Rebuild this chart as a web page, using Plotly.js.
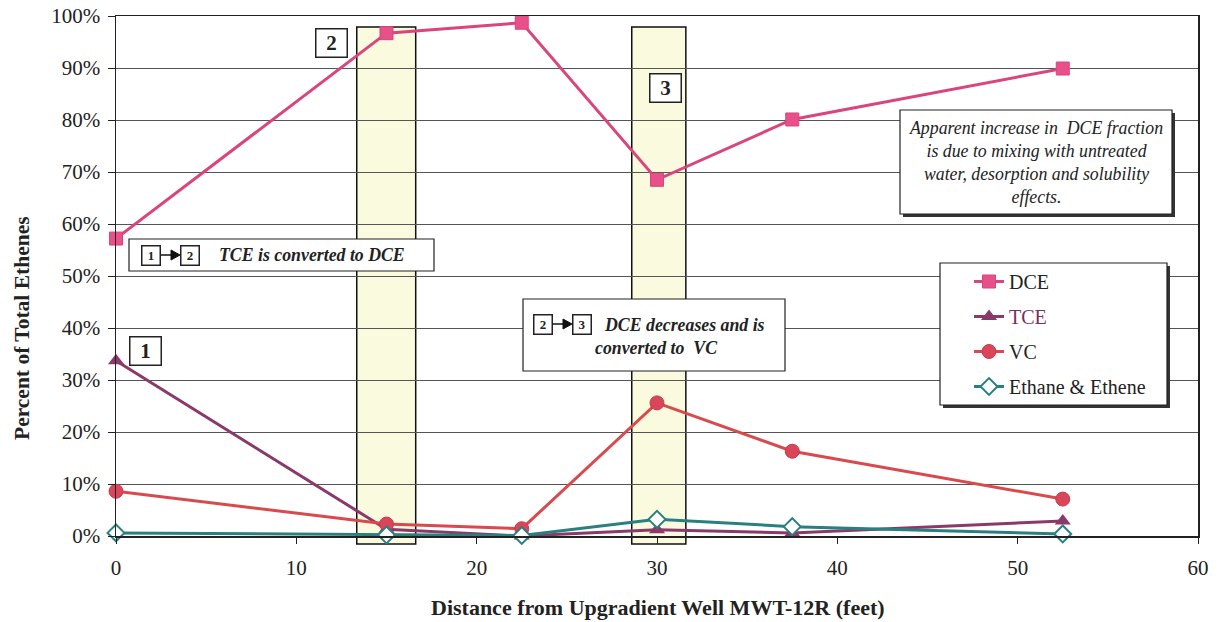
<!DOCTYPE html>
<html><head><meta charset="utf-8">
<script src="https://cdn.plot.ly/plotly-3.0.1.min.js"></script>
<style>html,body{margin:0;padding:0;background:#fff;}#chart{width:1222px;height:622px;}</style>
</head><body><div id="chart"></div>
<script>
// ---- data ----
const distanceFt = [0, 15, 22.5, 30, 37.5, 52.5];
const dcePct     = [57.2, 96.7, 98.7, 68.5, 80.1, 89.9];
const tcePct     = [33.7, 1.3, 0.0, 1.2, 0.6, 2.9];
const vcPct      = [8.6, 2.3, 1.4, 25.6, 16.3, 7.1];
const ethPct     = [0.6, 0.2, 0.1, 3.2, 1.8, 0.4];
const seriesNames = ['DCE', 'TCE', 'VC', 'Ethane &amp; Ethene'];
const xTicks = [0, 10, 20, 30, 40, 50, 60];
const yTicks = [0, 10, 20, 30, 40, 50, 60, 70, 80, 90, 100];
const yTickText = ['0%', '10%', '20%', '30%', '40%', '50%', '60%', '70%', '80%', '90%', '100%'];

// ---- layout helpers (pixel -> paper) ----
const L = 116, R = 1198, T = 16, B = 536;
const px = x => (x - L) / (R - L);
const py = y => (B - y) / (B - T);
const FONT = 'Liberation Serif';

const traces = [
  {x: distanceFt, y: dcePct, name: seriesNames[0], legendgroup: 'a', mode: 'lines+markers',
   line: {color: '#d9457c', width: 3}, marker: {symbol: 'square', size: 13, color: '#e8508a', line: {color: '#d9457c', width: 1}}},
  {x: distanceFt, y: tcePct, name: '<span style="color:#7a2f5e">' + seriesNames[1] + '</span>', legendgroup: 'b', mode: 'lines+markers',
   line: {color: '#8a3a6a', width: 3}, marker: {symbol: 'triangle-up', size: 14, color: '#8a3a6a'}},
  {x: distanceFt, y: vcPct, name: seriesNames[2], legendgroup: 'c', mode: 'lines+markers',
   line: {color: '#d84a4e', width: 3}, marker: {symbol: 'circle', size: 14, color: '#d9465a', line: {color: '#c83a48', width: 1}}},
  {x: distanceFt, y: ethPct, name: seriesNames[3], legendgroup: 'd', mode: 'lines+markers',
   line: {color: '#2a8080', width: 3}, marker: {symbol: 'diamond', size: 13, color: '#ffffff', line: {color: '#2a8080', width: 2}}}
];

const shapes = [];
// highlighted columns
[[13.35, 16.62], [28.6, 31.6]].forEach(c => shapes.push({
  type: 'rect', xref: 'x', yref: 'paper', x0: c[0], x1: c[1], y0: py(544), y1: py(27),
  fillcolor: '#fafadf', line: {color: '#111', width: 1.5}, layer: 'below'}));
function box(x0, y0, x1, y1, shadow) {
  if (shadow) shapes.push({type: 'rect', xref: 'paper', yref: 'paper', x0: px(x0 + 3), x1: px(x1 + 3), y0: py(y1 + 3), y1: py(y0 + 3),
    fillcolor: '#333', line: {width: 0}, layer: 'above'});
  shapes.push({type: 'rect', xref: 'paper', yref: 'paper', x0: px(x0), x1: px(x1), y0: py(y1), y1: py(y0),
    fillcolor: '#fff', line: {color: '#222', width: 1.2}, layer: 'above'});
}
function arrow(x0, x1, y) {
  shapes.push({type: 'line', xref: 'paper', yref: 'paper', x0: px(x0), x1: px(x1 - 6), y0: py(y), y1: py(y), line: {color: '#111', width: 1.5}, layer: 'above'});
  shapes.push({type: 'path', xref: 'paper', yref: 'paper',
    path: `M ${px(x1 - 9)} ${py(y - 5)} L ${px(x1)} ${py(y)} L ${px(x1 - 9)} ${py(y + 5)} Z`,
    fillcolor: '#111', line: {color: '#111', width: 1}, layer: 'above'});
}
box(129, 239, 434, 271, false);
box(523, 299, 785, 371, false);
box(900, 110, 1172, 214, true);
box(940, 263, 1167, 405, true);   // legend frame
arrow(161, 180, 255);
arrow(553, 572, 324);

const annotations = [];
function numBox(t, cx, cy, w, h, size) {
  annotations.push({xref: 'paper', yref: 'paper', x: px(cx), y: py(cy), xanchor: 'center', yanchor: 'middle',
    text: '<b>' + t + '</b>', showarrow: false, width: w, height: h, bgcolor: '#fff',
    bordercolor: '#222', borderwidth: 1.5, borderpad: 1, font: {family: FONT, size: size, color: '#222'}});
}
numBox('1', 145, 351, 28, 25, 21);
numBox('2', 331, 43, 28, 25, 21);
numBox('3', 665, 88, 28, 25, 21);
numBox('1', 151, 255, 15, 16, 13);
numBox('2', 190, 255, 15, 16, 13);
numBox('2', 543, 324, 15, 16, 13);
numBox('3', 582, 324, 15, 16, 13);
function txt(t, x, y, xa, size, extra) {
  annotations.push(Object.assign({xref: 'paper', yref: 'paper', x: px(x), y: py(y), xanchor: xa, yanchor: 'middle',
    text: t, showarrow: false, font: {family: FONT, size: size, color: '#222'}}, extra || {}));
}
txt('<b><i>TCE is converted to DCE</i></b>', 217, 255, 'left', 17.8);
txt('<b><i>DCE decreases and is</i></b>', 602, 325, 'left', 17.8);
txt('<b><i>converted to  VC</i></b>', 593, 348, 'left', 17.8);
txt('<i>Apparent increase in  DCE fraction<br>is due to mixing with untreated<br>water, desorption and solubility<br>effects.</i>',
  1036, 162, 'center', 17.8, {align: 'center'});
// axis titles
txt('<b>Percent of Total Ethenes</b>', 22, 328, 'center', 21.5, {textangle: -90});
txt('<b>Distance from Upgradient Well MWT-12R (feet)</b>', 658, 607, 'center', 22);

const layout = {
  width: 1222, height: 622,
  margin: {l: L, r: 1222 - R, t: T, b: 622 - B},
  paper_bgcolor: '#fff', plot_bgcolor: 'rgba(0,0,0,0)',
  font: {family: FONT, color: '#222', size: 21},
  showlegend: true,
  legend: {x: px(969), y: py(262), xanchor: 'left', yanchor: 'top', bgcolor: 'rgba(0,0,0,0)',
    borderwidth: 0, tracegroupgap: 6, font: {family: FONT, size: 20, color: '#222'}},
  xaxis: {range: [0, 60], tickvals: xTicks, ticks: 'outside', ticklen: 6, tickcolor: '#222',
    showgrid: false, zeroline: false, showline: true, linecolor: '#222', linewidth: 1.5, mirror: true,
    ticklabelstandoff: 6, tickfont: {family: FONT, size: 21, color: '#222'}},
  yaxis: {range: [0, 100], tickvals: yTicks, ticktext: yTickText, ticks: 'outside', ticklen: 7, tickcolor: '#222',
    showgrid: true, gridcolor: '#555', gridwidth: 1, zeroline: false, showline: true, linecolor: '#222', linewidth: 1.5, mirror: true,
    ticklabelstandoff: 3, tickfont: {family: FONT, size: 21, color: '#222'}},
  shapes: shapes, annotations: annotations
};
traces.forEach(t => t.cliponaxis = false);
Plotly.newPlot('chart', traces, layout, {displayModeBar: false, staticPlot: true});
</script></body></html>
